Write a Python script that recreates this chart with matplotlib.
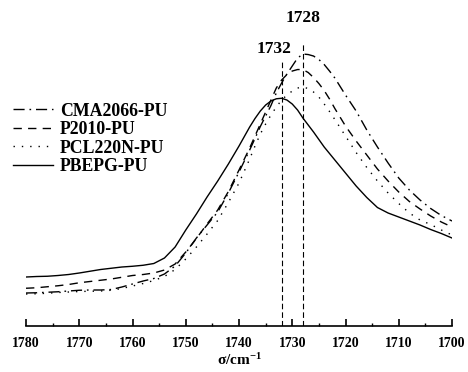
import matplotlib
matplotlib.use("Agg")
import matplotlib.pyplot as plt
from matplotlib.ticker import MultipleLocator

plt.rcParams["font.family"] = ["Liberation Serif", "DejaVu Serif"]
plt.rcParams["font.weight"] = "bold"
plt.rcParams["mathtext.fontset"] = "custom"
plt.rcParams["mathtext.rm"] = "Liberation Serif:bold"
plt.rcParams["mathtext.it"] = "Liberation Serif:bold"
plt.rcParams["mathtext.bf"] = "Liberation Serif:bold"
plt.rcParams["lines.scale_dashes"] = False

# Wavenumber grid (cm^-1), denser across the carbonyl maximum
wavenumber = [1780, 1778, 1776, 1774, 1772, 1770, 1768, 1766, 1764, 1762,
              1760, 1758, 1756, 1754, 1752, 1750, 1748, 1746, 1744, 1742,
              1740, 1739, 1738, 1737, 1736, 1735, 1734, 1733, 1732, 1731,
              1730, 1729, 1728, 1727, 1726, 1725, 1724, 1723, 1722,
              1720, 1718, 1716, 1714, 1712, 1710, 1708, 1706, 1704, 1702, 1700]

# Absorbance (a.u.) of the C=O stretching band for each polyurethane
cma2066_pu = [0.130, 0.131, 0.133, 0.135, 0.138, 0.141, 0.142, 0.142, 0.144, 0.154,
              0.166, 0.178, 0.188, 0.206, 0.238, 0.290, 0.350, 0.402, 0.454, 0.530,
              0.614, 0.658, 0.702, 0.748, 0.796, 0.838, 0.880, 0.930, 0.970, 1.006,
              1.038, 1.070, 1.086, 1.084, 1.078, 1.064, 1.044, 1.018, 0.990,
              0.922, 0.858, 0.782, 0.714, 0.650, 0.590, 0.542, 0.502, 0.468, 0.440, 0.418]

p2010_pu = [0.149, 0.151, 0.155, 0.159, 0.164, 0.171, 0.176, 0.181, 0.186, 0.193,
            0.200, 0.204, 0.210, 0.222, 0.246, 0.294, 0.348, 0.406, 0.462, 0.536,
            0.622, 0.666, 0.710, 0.758, 0.806, 0.854, 0.902, 0.950, 0.982, 1.004,
            1.018, 1.024, 1.024, 1.012, 0.992, 0.968, 0.940, 0.906, 0.868,
            0.798, 0.738, 0.682, 0.626, 0.578, 0.534, 0.496, 0.466, 0.438, 0.414, 0.394]

pcl220n_pu = [0.126, 0.127, 0.129, 0.132, 0.134, 0.136, 0.137, 0.138, 0.141, 0.148,
              0.158, 0.168, 0.180, 0.196, 0.224, 0.266, 0.314, 0.366, 0.420, 0.492,
              0.570, 0.618, 0.666, 0.718, 0.766, 0.806, 0.842, 0.874, 0.902, 0.922,
              0.938, 0.950, 0.954, 0.948, 0.934, 0.914, 0.886, 0.856, 0.824,
              0.758, 0.692, 0.632, 0.578, 0.530, 0.488, 0.450, 0.422, 0.404, 0.382, 0.362]

pbepg_pu = [0.194, 0.196, 0.197, 0.200, 0.204, 0.210, 0.217, 0.224, 0.229, 0.234,
            0.237, 0.241, 0.248, 0.270, 0.314, 0.382, 0.446, 0.514, 0.578, 0.646,
            0.718, 0.756, 0.794, 0.828, 0.858, 0.882, 0.898, 0.907, 0.909, 0.902,
            0.886, 0.862, 0.830, 0.802, 0.774, 0.744, 0.714, 0.688, 0.662,
            0.610, 0.558, 0.512, 0.472, 0.450, 0.434, 0.418, 0.402, 0.384, 0.368, 0.350]

series_labels = ["CMA2066-PU", "P2010-PU", "PCL220N-PU", "PBEPG-PU"]
peak_positions = [1732, 1728]
peak_labels = ["1732", "1728"]
peak_line_tops = [1.054, 1.134]

fig = plt.figure(figsize=(4.68, 3.72), dpi=100)
ax = fig.add_axes([0.0556, 0.125, 0.9102, 0.848])

ax.plot(wavenumber, cma2066_pu, color="black", lw=1.0, dashes=(8, 3.5, 1.2, 3.5),
        label=series_labels[0])
ax.plot(wavenumber, p2010_pu, color="black", lw=1.0, dashes=(6, 4.5),
        label=series_labels[1])
ax.plot(wavenumber, pcl220n_pu, color="black", lw=1.0, dashes=(1, 5),
        label=series_labels[2])
ax.plot(wavenumber, pbepg_pu, color="black", lw=1.0, label=series_labels[3])

for pos, top in zip(peak_positions, peak_line_tops):
    ax.plot([pos, pos], [0, top], color="black", lw=0.8, dashes=(4, 2.2))

ax.text(1728, 1.23, peak_labels[1], ha="center", va="center", fontsize=12.5,
        fontweight="bold")
ax.text(1733.4, 1.106, peak_labels[0], ha="center", va="center", fontsize=12.5,
        fontweight="bold")

ax.set_xlim(1780, 1700)
ax.set_ylim(0, 1.262)

for side in ("left", "right", "top"):
    ax.spines[side].set_visible(False)
ax.spines["bottom"].set_linewidth(1.2)
ax.set_yticks([])
ax.xaxis.set_major_locator(MultipleLocator(10))
ax.xaxis.set_minor_locator(MultipleLocator(5))
ax.tick_params(axis="x", which="major", direction="in", length=5, width=1.2,
               labelsize=10, pad=8)
ax.tick_params(axis="x", which="minor", direction="in", length=2.5, width=1.0)
for lbl in ax.get_xticklabels():
    lbl.set_fontweight("bold")

ax.set_xlabel("σ/cm$^{-1}$", fontsize=11, fontweight="bold", labelpad=2)

leg = ax.legend(loc="upper left", bbox_to_anchor=(0.0278, 0.724),
                bbox_transform=fig.transFigure, frameon=False, fontsize=12.8,
                handlelength=2.25, handletextpad=0.39, labelspacing=0.08,
                borderpad=0, borderaxespad=0)
for t in leg.get_texts():
    t.set_fontweight("bold")

fig.savefig("out.png", dpi=100)
